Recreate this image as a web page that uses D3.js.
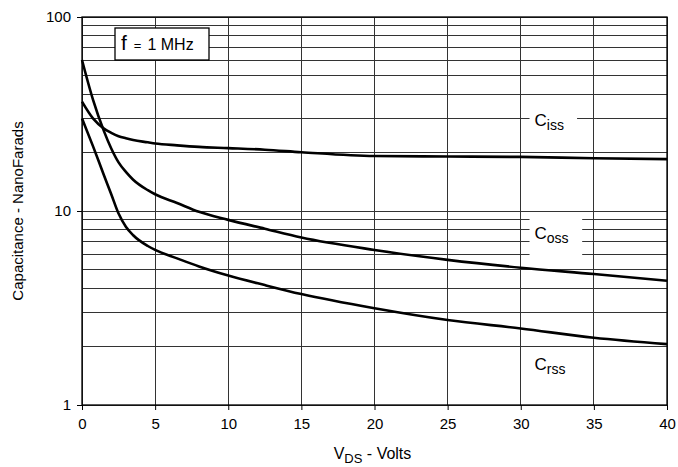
<!DOCTYPE html>
<html>
<head>
<meta charset="utf-8">
<script src="https://cdn.jsdelivr.net/npm/d3@7"></script>
<style>
  body { margin: 0; background: #fff; }
  text { font-family: "Liberation Sans", Arial, sans-serif; fill: #000; }
</style>
</head>
<body>
<div id="chart"></div>
<script>
const width = 678;
const height = 467;

// V_DS sample points (Volts)
const volts = [0, 0.75, 1.5, 2, 2.5, 3, 3.5, 4.5, 5, 6.5, 8, 10, 12.5, 15, 20, 25, 30, 35, 40];
// capacitances (nF)
const ciss = [36.6, 30.0, 26.6, 25.3, 24.3, 23.7, 23.2, 22.6, 22.3, 21.8, 21.4, 21.1, 20.7, 20.1, 19.2, 19.1, 19.0, 18.7, 18.5];
const coss = [60, 37.5, 25.8, 21, 17.8, 15.9, 14.5, 12.8, 12.2, 11.0, 9.9, 9.0, 8.1, 7.3, 6.3, 5.6, 5.1, 4.73, 4.37];
const crss = [30, 21.6, 15.3, 12.2, 9.7, 8.3, 7.5, 6.6, 6.3, 5.7, 5.18, 4.65, 4.15, 3.73, 3.15, 2.74, 2.48, 2.22, 2.06];

const xTicks = [0, 5, 10, 15, 20, 25, 30, 35, 40];
const yTicks = [1, 10, 100];

const margin = {top: 17, right: 11, bottom: 62, left: 82};

const svg = d3.select('#chart')
    .append('svg')
        .attr('width', width)
        .attr('height', height);

const x = d3.scaleLinear()
    .domain([0, 40])
    .range([margin.left, width - margin.right]);

const y = d3.scaleLog()
    .domain([1, 100])
    .range([height - margin.bottom, margin.top]);

// minor grid values 1..100
const gridY = [];
for (let dec = 1; dec < 100; dec *= 10) {
    for (let k = 1; k <= 10; k++) gridY.push(dec * k);
}

const grid = svg.append('g').attr('class', 'grid');
grid.selectAll('line.h')
    .data(gridY)
    .enter().append('line')
        .attr('class', 'h')
        .attr('x1', x(0)).attr('x2', x(40))
        .attr('y1', d => y(d)).attr('y2', d => y(d))
        .attr('stroke', '#333')
        .attr('stroke-width', 1)
        .attr('shape-rendering', 'crispEdges');

grid.selectAll('line.v')
    .data(xTicks)
    .enter().append('line')
        .attr('class', 'v')
        .attr('x1', d => x(d)).attr('x2', d => x(d))
        .attr('y1', y(1)).attr('y2', y(100))
        .attr('stroke', '#333')
        .attr('stroke-width', 1)
        .attr('shape-rendering', 'crispEdges');

// white gaps behind the curve labels
const labels = [
    {name: 'iss', c: 27.5, x0: 30.6, x1: 33.85, c0: 23.5, c1: 33},
    {name: 'oss', c: 7.2, x0: 30.6, x1: 34.2, c0: 5.75, c1: 9.5},
    {name: 'rss', c: 1.52, x0: 30.6, x1: 34.0, c0: 1.0, c1: 1.85}
];

svg.append('g').selectAll('rect')
    .data(labels)
    .enter().append('rect')
        .attr('x', d => x(d.x0))
        .attr('width', d => x(d.x1) - x(d.x0))
        .attr('y', d => y(d.c1))
        .attr('height', d => y(d.c0) - y(d.c1))
        .attr('fill', '#fff');

// frame + axes
const xAxis = d3.axisBottom(x).tickValues(xTicks).tickSize(5).tickPadding(8);
const yAxis = d3.axisLeft(y).tickValues(yTicks).tickFormat(d3.format('d')).tickSize(5).tickPadding(6);

const gx = svg.append('g')
    .attr('transform', 'translate(0,' + y(1) + ')')
    .call(xAxis);
const gy = svg.append('g')
    .attr('transform', 'translate(' + x(0) + ',0)')
    .call(yAxis);

[gx, gy].forEach(g => {
    g.select('.domain').remove();
    g.selectAll('.tick line').attr('stroke', '#000');
    g.selectAll('.tick text')
        .style('font-family', '"Liberation Sans", Arial, sans-serif')
        .style('font-size', '15px')
        .attr('fill', '#000');
});

svg.append('rect')
    .attr('x', x(0)).attr('y', y(100))
    .attr('width', x(40) - x(0))
    .attr('height', y(1) - y(100))
    .attr('fill', 'none')
    .attr('stroke', '#000')
    .attr('stroke-width', 1.3);

// curves
const line = d3.line()
    .x((d, i) => x(volts[i]))
    .y(d => y(d))
    .curve(d3.curveMonotoneX);

svg.append('g').selectAll('path')
    .data([ciss, coss, crss])
    .enter().append('path')
        .attr('d', line)
        .attr('fill', 'none')
        .attr('stroke', '#000')
        .attr('stroke-width', 2.6);

// curve labels
const lab = svg.append('g').selectAll('text')
    .data(labels)
    .enter().append('text')
        .attr('x', d => x(d.x0) + 5)
        .attr('y', d => y(d.c))
        .style('font-size', '17px');
lab.append('tspan').text('C');
lab.append('tspan')
    .attr('dy', 4)
    .style('font-size', '14px')
    .text(d => d.name);

// frequency box
svg.append('rect')
    .attr('x', 115).attr('y', 28)
    .attr('width', 94).attr('height', 32)
    .attr('fill', '#fff')
    .attr('stroke', '#000')
    .attr('stroke-width', 1.3);

const ft = svg.append('text')
    .attr('x', 121).attr('y', 50);
ft.append('tspan').style('font-size', '21px').text('f');
ft.append('tspan').attr('dx', 7).style('font-size', '13px').text('=');
ft.append('tspan').attr('dx', 6).style('font-size', '16px').text('1 MHz');

// axis titles
const xt = svg.append('text')
    .attr('x', (x(0) + x(40)) / 2 - 2)
    .attr('y', 459)
    .attr('text-anchor', 'middle')
    .style('font-size', '16px');
xt.append('tspan').text('V');
xt.append('tspan').attr('dy', 4).style('font-size', '13px').text('DS');
xt.append('tspan').attr('dy', -4).text(' - Volts');

svg.append('text')
    .attr('transform', 'translate(23,' + ((y(1) + y(100)) / 2) + ') rotate(-90)')
    .attr('text-anchor', 'middle')
    .style('font-size', '15px')
    .text('Capacitance - NanoFarads');
</script>
</body>
</html>
